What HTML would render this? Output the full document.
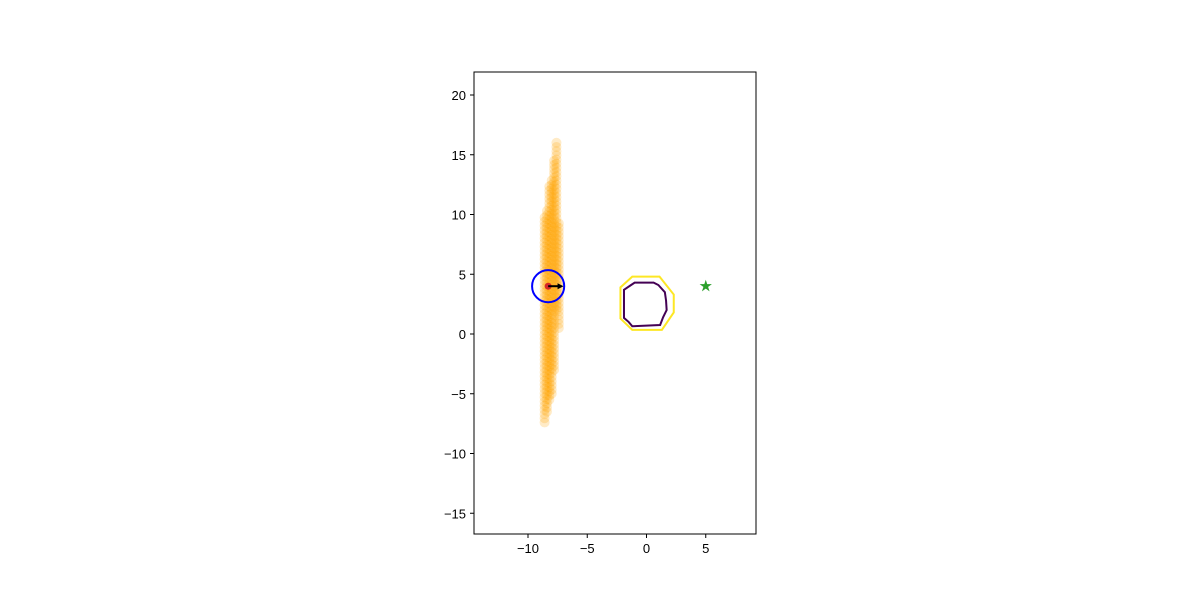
<!DOCTYPE html>
<html><head><meta charset="utf-8"><style>
body{margin:0;background:#fff;}
svg{display:block;font-family:"Liberation Sans","DejaVu Sans",sans-serif;}
</style></head><body>
<svg id="chart" width="1200" height="600" viewBox="0 0 1200 600"></svg>
<script>
const xTicks=[-10,-5,0,5];
const yTicks=[-15,-10,-5,0,5,10,15,20];
const colX=[-7.4,-7.6,-7.8,-8.0,-8.2,-8.4,-8.6];
const colYMin=[0.5,2,-3,-5,-5.5,-6.5,-7.4];
const colYMax=[9.5,16.2,14.8,13,12.5,10.5,10];
const innerX=[-1.9,-1.3,-1.0,0.6,1.0,1.55,1.65,1.7,1.4,1.15,-1.2,-1.5,-1.9];
const innerY=[3.7,4.1,4.3,4.3,4.1,3.5,2.8,2.0,1.4,0.75,0.65,1.0,1.35];
const outerX=[-2.2,-1.2,1.1,2.3,2.3,1.3,-1.2,-2.2];
const outerY=[3.9,4.8,4.8,3.3,1.8,0.35,0.35,1.3];
const agent=[-8.3,4];
const agentRadius=1.35;
const arrowEnd=[-7.0,4];
const goal=[5,4];

const L=474,R=756,T=72,B=534;
const sx=v=>646.5+v*11.85;
const sy=v=>334-v*11.95;
const NS="http://www.w3.org/2000/svg";
const svg=document.getElementById('chart');
function mk(tag,attrs,parent){const e=document.createElementNS(NS,tag);for(const k in attrs)e.setAttribute(k,attrs[k]);(parent||svg).appendChild(e);return e;}

const pts=mk('g',{});


for(let c=0;c<colX.length;c++){
  for(let y=colYMin[c];y<=colYMax[c]+1e-6;y+=0.35){
    const p=mk('circle',{cx:sx(colX[c]),cy:sy(y),r:5,fill:'orange','fill-opacity':0.22},pts);
    
    
  }
}
const op=mk('polygon',{points:outerX.map((x,i)=>sx(x)+','+sy(outerY[i])).join(' '),fill:'none',stroke:'#fde725','stroke-width':2});


const ip=mk('polygon',{points:innerX.map((x,i)=>sx(x)+','+sy(innerY[i])).join(' '),fill:'none',stroke:'#440154','stroke-width':2});



const ac=mk('circle',{cx:sx(agent[0]),cy:sy(agent[1]),r:agentRadius*11.9,fill:'none',stroke:'blue','stroke-width':2});


const ad=mk('circle',{cx:sx(agent[0]),cy:sy(agent[1]),r:3.5,fill:'#d62728'});


const ar=mk('line',{x1:sx(agent[0]),y1:sy(agent[1]),x2:sx(arrowEnd[0])-4,y2:sy(arrowEnd[1]),stroke:'#000','stroke-width':2});


const ah=mk('polygon',{points:`${sx(arrowEnd[0])},${sy(arrowEnd[1])} ${sx(arrowEnd[0])-6},${sy(arrowEnd[1])-3} ${sx(arrowEnd[0])-6},${sy(arrowEnd[1])+3}`,fill:'#000'});


const g=mk('text',{x:sx(goal[0]),y:sy(goal[1])+4,'text-anchor':'middle','font-size':12,fill:'#2ca02c',stroke:'#2ca02c','stroke-width':1});
g.textContent='★';



const frame=mk('rect',{x:L,y:T,width:R-L,height:B-T,fill:'none',stroke:'#000','stroke-width':1});


xTicks.forEach(v=>{
  const x=sx(v);
  const l=mk('line',{x1:x,y1:B,x2:x,y2:B+4,stroke:'#000'});
  
  
  const t=mk('text',{x:x,y:B+19,'text-anchor':'middle','font-size':13});
  t.textContent=v<0?'−'+(-v):v;
  
  
});
yTicks.forEach(v=>{
  const y=sy(v);
  const l=mk('line',{x1:L-4,y1:y,x2:L,y2:y,stroke:'#000'});
  
  
  const t=mk('text',{x:L-8,y:y+5,'text-anchor':'end','font-size':13});
  t.textContent=v<0?'−'+(-v):v;
  
  
});
</script>
</body></html>
